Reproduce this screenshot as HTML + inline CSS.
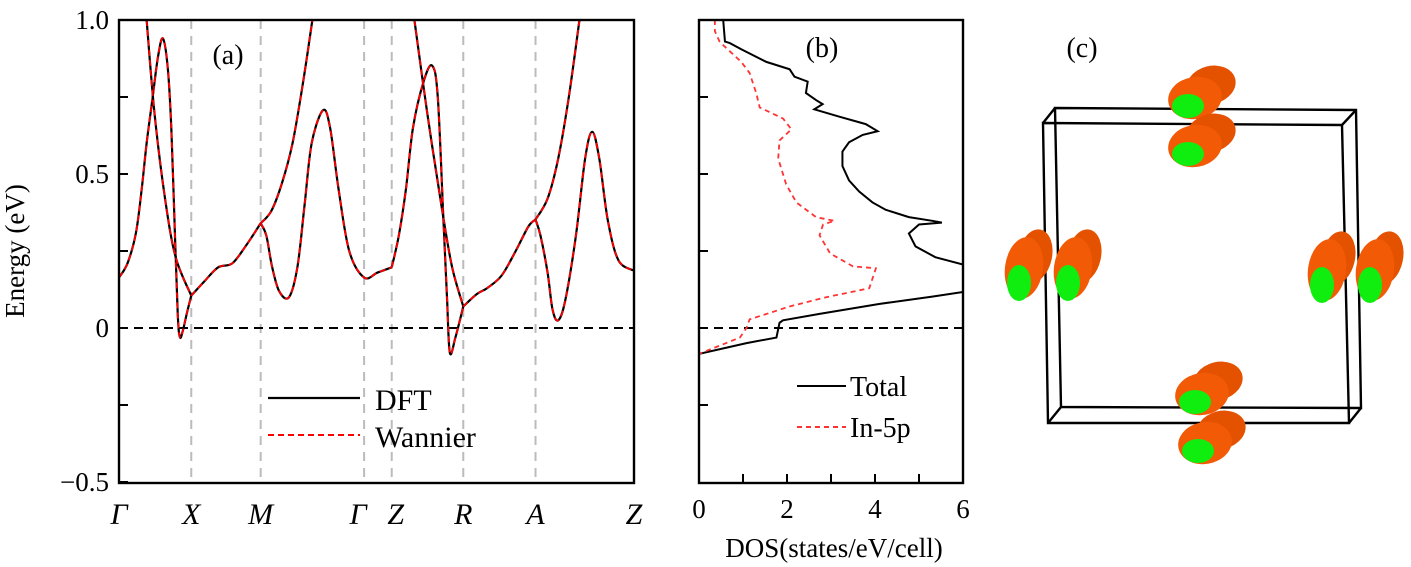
<!DOCTYPE html>
<html><head><meta charset="utf-8"><style>
html,body{margin:0;padding:0;background:#fff;}
svg{display:block;}
svg text{font-family:"Liberation Serif","DejaVu Serif",serif;}
</style></head><body>
<svg id="fig" width="1411" height="567" viewBox="0 0 1411 567" xmlns="http://www.w3.org/2000/svg" font-family="Liberation Serif, DejaVu Serif, serif">
<g id="pa"></g>
<g id="pb"></g>
<g id="pc"></g>
</svg>
<script>
// ---------- Panel (a) data ----------
const symLabels = ["Γ","X","M","Γ","Z","R","A","Z"];
const symK = [0, 1.02, 2.0, 3.46, 3.85, 4.86, 5.88, 7.27];
const yTicksA = [1.0, 0.5, 0, -0.5];
const yTickLabelsA = ["1.0","0.5","0","−0.5"];
const band1 = [[0,.164],[0.12,.21],[0.24,.31],[0.32,.45],[0.39,.6],[0.47,.74],[0.55,.88],[0.62,.94],[0.69,.84],[0.74,.64],[0.79,.3],[0.83,.04],[0.86,-.03],[0.9,-.01],[0.96,.05],[1.02,.105]];
const band2 = [[0.39,1.0],[0.5,.7],[0.65,.42],[0.8,.23],[1.02,.105]];
const band3 = [[1.02,.105],[1.2,.15],[1.4,.197],[1.6,.21],[1.8,.27],[2.0,.34]];
const band4 = [[2.0,.34],[2.15,.38],[2.3,.47],[2.45,.6],[2.6,.8],[2.73,1.0]];
const band5 = [[2.0,.34],[2.08,.3],[2.16,.2],[2.26,.12],[2.4,.10],[2.52,.2],[2.62,.4],[2.72,.6],[2.88,.707],[2.98,.65],[3.1,.45],[3.25,.25],[3.46,.164],[3.65,.18],[3.85,.197]];
const band6 = [[3.85,.197],[3.95,.3],[4.05,.45],[4.15,.65],[4.3,.8],[4.42,.852],[4.5,.75],[4.58,.35],[4.63,.1],[4.67,-.08],[4.75,-.03],[4.86,.07]];
const band7 = [[4.17,1.0],[4.35,.7],[4.55,.4],[4.7,.2],[4.86,.07]];
const band8 = [[4.86,.07],[5.05,.11],[5.2,.13],[5.4,.17],[5.6,.25],[5.78,.33],[5.88,.352]];
const band9 = [[5.88,.352],[6.05,.42],[6.2,.55],[6.35,.75],[6.5,1.0]];
const band10 = [[5.88,.352],[5.95,.3],[6.05,.18],[6.12,.06],[6.2,.025],[6.3,.09],[6.45,.3],[6.58,.55],[6.68,.637],[6.78,.55],[6.9,.35],[7.05,.22],[7.27,.186]];
const bands = [band1,band2,band3,band4,band5,band6,band7,band8,band9,band10];

// ---------- Panel (b) data ----------
const dosTotalE = [1.0,.93,.925,.905,.864,.84,.816,.8,.763,.74,.727,.71,.686,.662,.639,.627,.603,.573,.526,.479,.443,.408,.384,.36,.348,.342,.336,.307,.265,.23,.206];
const dosTotalV = [.55,.59,.7,.96,1.53,2.06,2.17,2.47,2.43,2.66,2.81,2.62,3.19,3.79,4.06,3.72,3.41,3.26,3.26,3.41,3.64,3.94,4.24,4.77,5.3,5.52,5.0,4.77,4.92,5.37,6.0];
const dosTotal2E = [.117,.102,.078,.046,.025,.017,-.031,-.049,-.084,-.5];
const dosTotal2V = [6.0,5.3,4.09,2.74,1.91,1.83,1.76,1.08,0,0];
const dosInE = [1.0,.964,.929,.864,.828,.763,.716,.68,.645,.609,.55,.467,.408,.36,.348,.336,.301,.242,.2,.194,.129,.1,.07,.028,0,-.031,-.084,-.5];
const dosInV = [.36,.36,.47,.96,1.15,1.3,1.38,1.91,2.1,1.83,1.8,1.98,2.21,2.66,3.08,2.82,2.74,2.98,3.5,4.02,3.87,2.89,2.06,1.15,1.08,.93,0,0];
const dosTicks = [0,2,4,6];

const NS="http://www.w3.org/2000/svg";
const FF="Liberation Serif, DejaVu Serif, serif";
function mk(parent,tag,attrs,text){const e=document.createElementNS(NS,tag);for(const k in attrs)e.setAttribute(k,attrs[k]);if(tag==='text')e.setAttribute('font-family',FF);if(text!==undefined)e.textContent=text;parent.appendChild(e);return e;}

// axes (a)
const ax={x0:119,x1:634,y0:20,y1:483};
const kx=k=>ax.x0+k/7.27*(ax.x1-ax.x0);
const ey=E=>328-E*308;
const pa=document.getElementById('pa');
for(let i=1;i<symK.length-1;i++){
  const l=mk(pa,'line',{x1:kx(symK[i]),x2:kx(symK[i]),y1:ax.y0,y2:ax.y1,stroke:'#bbb','stroke-width':2,'stroke-dasharray':'9,7'});
  
  
}
const zl=mk(pa,'line',{x1:ax.x0,x2:ax.x1,y1:ey(0),y2:ey(0),stroke:'#000','stroke-width':2,'stroke-dasharray':'9,6'});


function smooth(pts){
  let d=`M${pts[0][0]},${pts[0][1]}`;
  for(let i=0;i<pts.length-1;i++){
    const p0=pts[Math.max(i-1,0)],p1=pts[i],p2=pts[i+1],p3=pts[Math.min(i+2,pts.length-1)];
    const c1=[p1[0]+(p2[0]-p0[0])/6,p1[1]+(p2[1]-p0[1])/6];
    const c2=[p2[0]-(p3[0]-p1[0])/6,p2[1]-(p3[1]-p1[1])/6];
    d+=` C${c1[0]},${c1[1]} ${c2[0]},${c2[1]} ${p2[0]},${p2[1]}`;
  }
  return d;
}
const cpa=mk(pa,'clipPath',{id:'clipA'});
mk(cpa,'rect',{x:ax.x0,y:ax.y0,width:ax.x1-ax.x0,height:ax.y1-ax.y0});
const bg=mk(pa,'g',{'clip-path':'url(#clipA)'});
bands.forEach((b,i)=>{
  const pts=b.map(p=>[kx(p[0]),ey(p[1])]);
  const d=smooth(pts);
  const l1=mk(bg,'path',{d:d,fill:'none',stroke:'#000','stroke-width':2.2});
  
  
  const l2=mk(bg,'path',{d:d,fill:'none',stroke:'#f00','stroke-width':1.8,'stroke-dasharray':'6,4'});
  
  
});
const fa=mk(pa,'rect',{x:ax.x0,y:ax.y0,width:ax.x1-ax.x0,height:ax.y1-ax.y0,fill:'none',stroke:'#000','stroke-width':2.4});


for(let v=-0.5;v<=1.0001;v+=0.25){
  mk(pa,'line',{x1:ax.x0,x2:ax.x0+9,y1:ey(v),y2:ey(v),stroke:'#000','stroke-width':2});
}
yTicksA.forEach((v,i)=>{
  const t=mk(pa,'text',{x:ax.x0-10,y:ey(v)+9,'font-size':27,'text-anchor':'end'},yTickLabelsA[i]);
  
  
});
symLabels.forEach((s,i)=>{
  let x=kx(symK[i]); if(i===3)x-=6; if(i===4)x+=4;
  const t=mk(pa,'text',{x:x,y:524,'font-size':30,'font-style':'italic','text-anchor':'middle'},s);
  
  
});
const yt=mk(pa,'text',{x:0,y:0,'font-size':27,'text-anchor':'middle',transform:'translate(24,251) rotate(-90)'},'Energy (eV)');


const la=mk(pa,'text',{x:228,y:64,'font-size':28,'text-anchor':'middle'},'(a)');


const lg1=mk(pa,'line',{x1:268,x2:360,y1:398,y2:398,stroke:'#000','stroke-width':2.2});


const lt1=mk(pa,'text',{x:375,y:410,'font-size':30},'DFT');


const lg2=mk(pa,'line',{x1:268,x2:360,y1:435,y2:435,stroke:'#f00','stroke-width':2,'stroke-dasharray':'6,4'});


const lt2=mk(pa,'text',{x:375,y:447,'font-size':30},'Wannier');



// ---------- Panel (b) ----------
const bx={x0:699,x1:963};
const dx=v=>bx.x0+v/6*(bx.x1-bx.x0);
const pb=document.getElementById('pb');
const cpb=mk(pb,'clipPath',{id:'clipB'});
mk(cpb,'rect',{x:bx.x0,y:ax.y0,width:bx.x1-bx.x0,height:ax.y1-ax.y0});
const gb=mk(pb,'g',{'clip-path':'url(#clipB)'});
const zb=mk(gb,'line',{x1:bx.x0,x2:bx.x1,y1:ey(0),y2:ey(0),stroke:'#000','stroke-width':2,'stroke-dasharray':'9,6'});


function poly(E,V){return E.map((e,i)=>dx(V[i])+','+ey(e)).join(' ');}
const t1=mk(gb,'polyline',{points:poly(dosTotalE,dosTotalV),fill:'none',stroke:'#000','stroke-width':2});


const t2=mk(gb,'polyline',{points:poly(dosTotal2E,dosTotal2V),fill:'none',stroke:'#000','stroke-width':2});


const t3=mk(gb,'polyline',{points:poly(dosInE,dosInV),fill:'none',stroke:'#f33','stroke-width':1.8,'stroke-dasharray':'5,4'});


const fb=mk(pb,'rect',{x:bx.x0,y:ax.y0,width:bx.x1-bx.x0,height:ax.y1-ax.y0,fill:'none',stroke:'#000','stroke-width':2.4});


for(let v=-0.25;v<=0.76;v+=0.25) mk(pb,'line',{x1:bx.x0,x2:bx.x0+9,y1:ey(v),y2:ey(v),stroke:'#000','stroke-width':2});
for(let v=1;v<6;v++) mk(pb,'line',{x1:dx(v),x2:dx(v),y1:ax.y1,y2:ax.y1-9,stroke:'#000','stroke-width':2});
dosTicks.forEach(v=>{
  const t=mk(pb,'text',{x:dx(v),y:518,'font-size':27,'text-anchor':'middle'},String(v));
  
  
});
const xt=mk(pb,'text',{x:834,y:557,'font-size':27,'text-anchor':'middle'},'DOS(states/eV/cell)');


const lb=mk(pb,'text',{x:822,y:57,'font-size':28,'text-anchor':'middle'},'(b)');


const bl1=mk(pb,'line',{x1:797,x2:846,y1:386,y2:386,stroke:'#000','stroke-width':2});


const bt1=mk(pb,'text',{x:850,y:396,'font-size':28},'Total');


const bl2=mk(pb,'line',{x1:797,x2:846,y1:427,y2:427,stroke:'#f33','stroke-width':2,'stroke-dasharray':'5,4'});


const bt2=mk(pb,'text',{x:850,y:437,'font-size':28},'In-5p');



// ---------- Panel (c) ----------
const pc=document.getElementById('pc');
const lc=mk(pc,'text',{x:1082,y:57,'font-size':28,'text-anchor':'middle'},'(c)');


const box=mk(pc,'g',{fill:'none',stroke:'#000','stroke-width':2.4});


mk(box,'polygon',{points:'1055,108 1356,110 1361,408 1061,407'});
mk(box,'polygon',{points:'1043,123 1342,125 1349,423 1048,423'});
mk(box,'line',{x1:1055,y1:108,x2:1043,y2:123});
mk(box,'line',{x1:1356,y1:110,x2:1342,y2:125});
mk(box,'line',{x1:1361,y1:408,x2:1349,y2:423});
mk(box,'line',{x1:1061,y1:407,x2:1048,y2:423});
function blob(cx,cy,name,vert){
  const g=mk(pc,'g',{});
  
  
  if(vert){
    mk(g,'ellipse',{cx:cx+11,cy:cy-12,rx:17,ry:27,fill:'#e45200',transform:`rotate(12 ${cx+11} ${cy-12})`});
    mk(g,'ellipse',{cx:cx,cy:cy,rx:19,ry:31,fill:'#f25a05',transform:`rotate(8 ${cx} ${cy})`});
    mk(g,'ellipse',{cx:cx-5,cy:cy+15,rx:12,ry:18,fill:'#10ee10'});
  }else{
    mk(g,'ellipse',{cx:cx+16,cy:cy-13,rx:25,ry:19,fill:'#e45200',transform:`rotate(-15 ${cx+16} ${cy-13})`});
    mk(g,'ellipse',{cx:cx,cy:cy,rx:27,ry:21,fill:'#f25a05',transform:`rotate(-10 ${cx} ${cy})`});
    mk(g,'ellipse',{cx:cx-7,cy:cy+8,rx:16,ry:12,fill:'#10ee10'});
  }
}
blob(1195,98,'orbital-top-upper',false);
blob(1195,146,'orbital-top-lower',false);
blob(1202,394,'orbital-bottom-upper',false);
blob(1205,443,'orbital-bottom-lower',false);
blob(1024,268,'orbital-left-outer',true);
blob(1073,268,'orbital-left-inner',true);
blob(1327,270,'orbital-right-inner',true);
blob(1375,270,'orbital-right-outer',true);
</script>
</body></html>
